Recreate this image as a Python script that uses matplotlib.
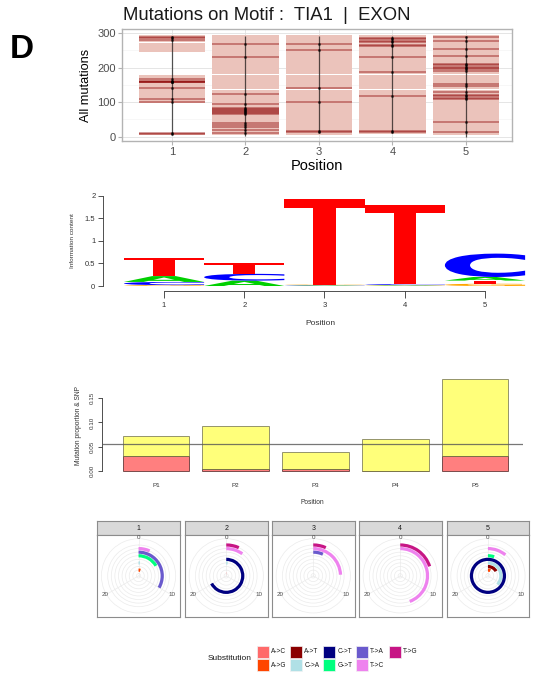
import numpy as np
import matplotlib
matplotlib.use("Agg")
import matplotlib.pyplot as plt
from matplotlib.patches import Polygon, PathPatch, Rectangle
from matplotlib.textpath import TextPath
from matplotlib.font_manager import FontProperties
from matplotlib.transforms import Affine2D

plt.rcParams['font.family'] = ['Liberation Sans', 'DejaVu Sans']

W, H = 537, 676

# ---------------- data ----------------
positions = [1, 2, 3, 4, 5]

# top panel: pale mutation tiles (lo, hi) and dark mutation lines per position
bands = [
    [(246, 272), (274, 294), (139, 178), (99, 137), (5, 12)],
    [(5, 47), (49, 91), (93, 136), (138, 180), (182, 224), (226, 294)],
    [(5, 47), (49, 91), (93, 136), (138, 180), (182, 224), (226, 294)],
    [(7, 47), (49, 91), (93, 136), (138, 180), (182, 224), (226, 294)],
    [(5, 47), (49, 91), (93, 136), (138, 180), (182, 224), (226, 294)],
]
dark_lines = [
    [289, 286, 280, 166, 160, 159, 158, 157, 142, 109, 100, 10, 8],
    [268, 230, 124, 96, 84, 81, 78, 75, 72, 69, 66, 40, 33, 27, 20, 12],
    [268, 252, 140, 101, 16, 14],
    [287, 283, 278, 275, 265, 263, 232, 186, 118, 17, 14],
    [290, 276, 254, 233, 211, 207, 203, 199, 195, 191, 152, 146, 130, 121,
     117, 113, 109, 42, 14],
]
whisker = [(5, 292), (2, 292), (10, 292), (12, 292), (0, 292)]

# sequence logo: letters bottom -> top with heights (bits)
logo_letters = [
    [('G', 0.02), ('C', 0.07), ('A', 0.13), ('T', 0.40)],
    [('A', 0.12), ('C', 0.15), ('T', 0.23)],
    [('C', 0.01), ('A', 0.01), ('G', 0.01), ('T', 1.90)],
    [('G', 0.01), ('A', 0.01), ('C', 0.02), ('T', 1.76)],
    [('G', 0.05), ('T', 0.07), ('A', 0.08), ('C', 0.52)],
]
letter_cols = {'A': '#00D000', 'C': '#0000FF', 'G': '#FFA500', 'T': '#FF0000'}

# mutation proportion & SNP
bar_labels = ['P1', 'P2', 'P3', 'P4', 'P5']
mut_prop = [0.072, 0.0927, 0.038, 0.0657, 0.1895]
snp_prop = [0.0305, 0.0035, 0.0035, 0.0, 0.0305]
threshold = 0.0547

# substitutions per position (polar)
subs = ['A->C', 'A->G', 'A->T', 'C->A', 'C->T', 'G->T', 'T->A', 'T->C', 'T->G']
sub_cols = ['#FF6A6A', '#FF4500', '#8B0000', '#B0E0E6', '#000080',
            '#00FF7F', '#6A5ACD', '#EE82EE', '#C71585']
sub_counts = [
    [0, 1.5, 0, 0.5, 0, 5, 10, 2, 0],
    [0.3, 0, 0, 0.5, 20.2, 0, 0, 3, 2],
    [0, 0, 0, 0, 0, 0, 2, 7.3, 2],
    [0, 0, 0, 0, 0, 0, 0, 13.3, 6],
    [0, 2, 5, 11, 30, 1.5, 0, 3.3, 0],
]
theta_max = 30
theta_breaks = [0, 10, 20]

fig = plt.figure(figsize=(W / 100, H / 100), dpi=100)


def add_ax(l, r, t, b, **kw):
    return fig.add_axes([l / W, 1 - b / H, (r - l) / W, (b - t) / H], **kw)


# ---------------- top panel ----------------
fig.text(10 / W, 1 - 49 / H, 'D', fontsize=24, fontweight='bold', va='center')
fig.text(267 / W, 1 - 16 / H, 'Mutations on Motif :  TIA1  |  EXON',
         fontsize=13.3, ha='center', va='center', color='#1A1A1A')

ax1 = add_ax(122, 512, 29, 141)
ax1.set_xlim(0.32, 5.626)
ax1.set_ylim(-12.5, 312)
for p, bl, dl, (w0, w1) in zip(positions, bands, dark_lines, whisker):
    lo = np.array([b[0] for b in bl])
    hi = np.array([b[1] for b in bl])
    ax1.bar([p] * len(lo), hi - lo, bottom=lo, width=0.9, color='#EBC3BB',
            lw=0, zorder=2)
    ax1.hlines(dl, p - 0.45, p + 0.45, color='#8B0000', alpha=0.5, lw=1.1,
               zorder=3)
    ax1.vlines(p, w0, w1, color='k', lw=0.9, alpha=0.65, zorder=4)
    ax1.plot([p] * len(dl), dl, 'o', ms=1.2, color='k', alpha=0.5, zorder=4)
ax1.set_xticks(positions)
ax1.set_yticks([0, 100, 200, 300])
ax1.set_yticks([50, 150, 250], minor=True)
ax1.grid(which='major', color='#E0E0E0', lw=0.6, zorder=0)
ax1.grid(which='minor', axis='y', color='#F2F2F2', lw=0.4, zorder=0)
ax1.set_axisbelow(True)
for s in ax1.spines.values():
    s.set_color('#B3B3B3')
    s.set_linewidth(1.0)
ax1.tick_params(which='major', length=3, color='#B3B3B3', labelcolor='#4D4D4D',
                labelsize=8, pad=1.5)
ax1.tick_params(which='minor', length=0)
ax1.set_ylabel('All mutations', fontsize=9.2, labelpad=4)
ax1.set_xlabel('Position', fontsize=10.5, labelpad=1)

# ---------------- sequence logo ----------------
fp = FontProperties(family='DejaVu Sans', weight='bold')


def draw_letter(ax, ch, x, y0, h, color):
    if h <= 0:
        return
    if ch == 'T':
        xs = np.array([0, 1, 1, 0.64, 0.64, 0.36, 0.36, 0])
        ys = np.array([1, 1, 0.9, 0.9, 0, 0, 0.9, 0.9])
        pts = np.column_stack([x - 0.5 + xs, y0 + h * ys])
        ax.add_patch(Polygon(pts, closed=True, fc=color, ec='none'))
    else:
        tp = TextPath((0, 0), ch, size=1, prop=fp)
        bb = tp.get_extents()
        tr = (Affine2D().translate(-bb.x0, -bb.y0)
              .scale(1 / bb.width, h / bb.height).translate(x - 0.5, y0))
        ax.add_patch(PathPatch(tr.transform_path(tp), fc=color, ec='none'))


ax2 = add_ax(103, 537, 190, 291)
ax2.set_xlim(0.24, 5.648)
ax2.set_ylim(-0.111, 2.133)
for p, stack in zip(positions, logo_letters):
    y = 0.0
    for ch, h in stack:
        draw_letter(ax2, ch, p, y, h, letter_cols[ch])
        y += h
for s in ['top', 'right']:
    ax2.spines[s].set_visible(False)
ax2.spines['left'].set_bounds(0, 2)
ax2.spines['bottom'].set_bounds(1, 5)
for s in ['left', 'bottom']:
    ax2.spines[s].set_linewidth(0.6)
    ax2.spines[s].set_color('#333333')
ax2.set_xticks(positions)
ax2.set_yticks([0, 0.5, 1, 1.5, 2])
ax2.set_yticklabels(['0', '0.5', '1', '1.5', '2'])
ax2.tick_params(axis='x', length=5, width=0.6, labelsize=5.5, pad=3,
                color='#333333', labelcolor='#333333')
ax2.tick_params(axis='y', length=3.5, width=0.6, labelsize=5.5, pad=2,
                color='#333333', labelcolor='#333333')
ax2.set_ylabel('Information content', fontsize=4.6, labelpad=7, color='#333333')
ax2.set_xlabel('Position', fontsize=6, labelpad=8, color='#333333')

# ---------------- proportion bars ----------------
ax3 = add_ax(102, 523, 375.7, 474.4)
xb = np.arange(len(bar_labels)) * 1.2 + 0.7
ax3.set_xlim(-0.11, 6.22)
ax3.set_ylim(-0.0076, 0.197)
ax3.bar(xb, snp_prop, width=1, color='#FF7F7F', edgecolor=(0.25, 0.1, 0.1, 0.7),
        lw=0.7, zorder=2)
ax3.bar(xb, np.array(mut_prop) - np.array(snp_prop), bottom=snp_prop, width=1,
        color='#FFFF7A', edgecolor=(0.3, 0.3, 0.2, 0.6), lw=0.7, zorder=2)
ax3.axhline(threshold, color='#555555', lw=0.9, alpha=0.8, zorder=3)
for s in ['top', 'right', 'bottom']:
    ax3.spines[s].set_visible(False)
ax3.spines['left'].set_bounds(0, 0.15)
ax3.spines['left'].set_linewidth(0.6)
ax3.spines['left'].set_color('#333333')
ax3.set_yticks([0, 0.05, 0.10, 0.15])
ax3.set_yticklabels(['0.00', '0.05', '0.10', '0.15'], rotation=90, va='center')
ax3.set_xticks(xb)
ax3.set_xticklabels(bar_labels)
ax3.tick_params(axis='y', length=3, width=0.6, labelsize=4.5, pad=2,
                color='#333333', labelcolor='#333333')
ax3.tick_params(axis='x', length=0, labelsize=4.5, pad=6, labelcolor='#333333')
ax3.set_ylabel('Mutation proportion & SNP', fontsize=4.8, labelpad=6,
               color='#333333')
ax3.set_xlabel('Position', fontsize=4.8, labelpad=8, color='#333333')

# ---------------- polar facets ----------------
panel_left = [97.3, 185, 272, 359, 446.7]
pw = 82.5
strip_t, strip_b, panel_b = 521, 535, 616.7
levels = np.arange(1, len(subs) + 1)
r_top = 0.4 + 9.2 * 0.45 / 0.4
for p, pl, counts in zip(positions, panel_left, sub_counts):
    sax = add_ax(pl, pl + pw, strip_t, strip_b)
    sax.set_facecolor('#D9D9D9')
    sax.set_xticks([])
    sax.set_yticks([])
    for s in sax.spines.values():
        s.set_color('#8C8C8C')
        s.set_linewidth(0.8)
    sax.text(0.5, 0.5, str(p), ha='center', va='center', fontsize=5,
             color='#1A1A1A', transform=sax.transAxes)

    bax = add_ax(pl, pl + pw, strip_b, panel_b)
    bax.set_xticks([])
    bax.set_yticks([])
    for s in bax.spines.values():
        s.set_color('#8C8C8C')
        s.set_linewidth(0.8)

    cx = pl + pw / 2
    cy = (strip_b + panel_b) / 2
    rr = 0.45 * pw
    pax = add_ax(cx - rr, cx + rr, cy - rr, cy + rr, projection='polar')
    pax.set_facecolor('none')
    pax.set_theta_zero_location('N')
    pax.set_theta_direction(-1)
    ang = np.array(counts) / theta_max * 2 * np.pi
    pax.barh(levels, ang, left=0, height=0.9, color=sub_cols, lw=0, zorder=3)
    pax.set_ylim(0.4, r_top)
    tb = np.array(theta_breaks) / theta_max * 2 * np.pi
    pax.set_xticks(tb)
    pax.set_xticklabels([])
    pax.set_yticks(levels)
    pax.set_yticklabels([])
    pax.grid(color='#EBEBEB', lw=0.5)
    pax.spines['polar'].set_color('#EBEBEB')
    pax.spines['polar'].set_linewidth(0.5)
    for t, lab in zip(tb, theta_breaks):
        pax.text(t, r_top * 1.03, str(lab), ha='center', va='center',
                 fontsize=4.5, color='#4D4D4D', clip_on=False, zorder=5)

# ---------------- legend ----------------
lax = add_ax(0, W, 0, H)
lax.set_xlim(0, W)
lax.set_ylim(H, 0)
lax.axis('off')
lax.text(230, 659, 'Substitution', fontsize=6, ha='center', va='center',
         color='#1A1A1A')
for i, (lab, col) in enumerate(zip(subs, sub_cols)):
    c, r = divmod(i, 2)
    kx = 256.7 + c * 33
    ky = 646 + r * 13.3
    lax.add_patch(Rectangle((kx, ky), 12, 11.5, fc=col, ec='#F2F2F2', lw=0.5))
    lax.text(kx + 14.5, ky + 5.9, lab, fontsize=4.7, va='center',
             color='#1A1A1A')

fig.savefig('out.png', dpi=100)
